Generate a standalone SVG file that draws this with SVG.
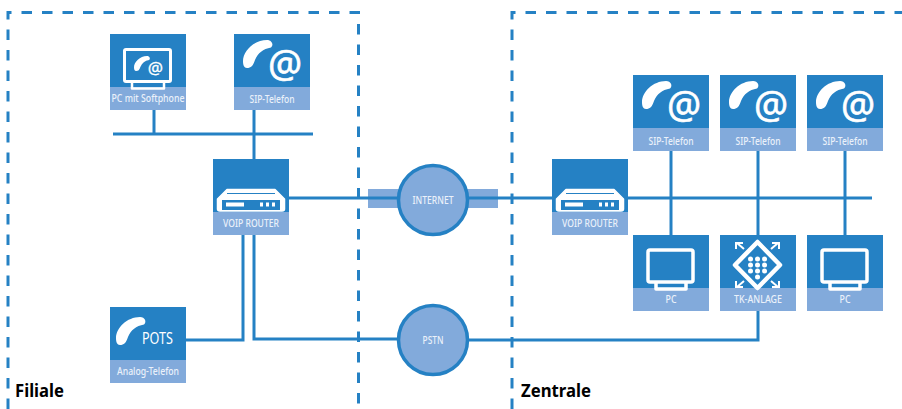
<svg xmlns="http://www.w3.org/2000/svg" xmlns:xlink="http://www.w3.org/1999/xlink" width="902" height="409" viewBox="0 0 902 409">
<style>
.top{fill:#2581c4}.bot{fill:#82aadb}
.lb{font-family:"Noto Sans","Open Sans",sans-serif;font-size:11px;font-weight:500;fill:#eaf1fa;text-anchor:middle}
.zone{fill:none;stroke:#2581c4;stroke-width:3;stroke-dasharray:10.5 10}
.w{stroke:#2581c4;stroke-width:3;fill:none}
.wt{fill:none;stroke:#fff;stroke-linecap:round;stroke-linejoin:round}
.cap{font-family:"Noto Sans","Open Sans",sans-serif;font-weight:700;font-size:18px;fill:#000}
.at{font-family:"Noto Sans","Open Sans",sans-serif;fill:#fff;stroke:#fff;stroke-width:.6;text-anchor:middle}
</style>
<defs>
<g id="tile"><rect class="top" width="76" height="53"/><rect class="bot" y="53" width="76" height="23"/></g>
<path id="hs" d="M0 21C0 11 11 0 24 0C29 0 31 5 28 7.500C20 9 15 13 12 20C10 26 8 28 4 28C1 28 0 25 0 21Z" fill="#fff"/>
<g id="sip"><use xlink:href="#tile"/><use xlink:href="#hs" transform="translate(9 6)"/><text class="at" x="51" y="43" font-size="38">@</text></g>
<g id="pc"><use xlink:href="#tile"/><rect class="wt" x="15" y="15" width="45" height="32" rx="2" stroke-width="3.500"/><path class="wt" d="M23 48V54H53V48" stroke-width="3.500"/></g>
<g id="router"><use xlink:href="#tile"/>
<path d="M4.500 40V50Q4.500 52 7 52H69Q71.500 52 71.500 50V40L62 30.500H14Z" fill="#fff" stroke="#fff" stroke-width="1.500" stroke-linejoin="round"/>
<path d="M14 34.500H62" stroke="#2581c4" stroke-width="1"/>
<rect class="top" x="9" y="41" width="58" height="10"/>
<rect x="13" y="43.500" width="18" height="4" fill="#fff"/>
<rect x="47" y="43.500" width="3" height="4" fill="#fff"/><rect x="53" y="43.500" width="3" height="4" fill="#fff"/><rect x="59" y="43.500" width="3" height="4" fill="#fff"/>
</g>
</defs>

<g id="zones">
<path class="zone" d="M8 409V12.500H358.500V409"/>
<path class="zone" d="M512 409V12.500H902"/>
</g>

<g id="bands"><rect class="bot" x="368" y="189" width="130" height="19"/></g>

<g id="connectors">
<path class="w" d="M113 134H313"/>
<path class="w" d="M154 110V134"/>
<path class="w" d="M254 110V159"/>
<path class="w" d="M289 198H398"/>
<path class="w" d="M468 198H552"/>
<path class="w" d="M628 198H872"/>
<path class="w" d="M671 151V235"/>
<path class="w" d="M758 151V235"/>
<path class="w" d="M845 151V235"/>
<path class="w" d="M186 340H243V235"/>
<path class="w" d="M254 235V339H398"/>
<path class="w" d="M468 340H758V311"/>
</g>

<g id="filiale-label"><text class="cap" x="15" y="397" textLength="49" lengthAdjust="spacingAndGlyphs">Filiale</text></g>
<g id="zentrale-label"><text class="cap" x="521" y="397" textLength="70" lengthAdjust="spacingAndGlyphs">Zentrale</text></g>

<g id="pc-softphone" transform="translate(110 34)"><use xlink:href="#tile"/>
<rect class="wt" x="14.500" y="15.500" width="46" height="32" rx="1.500" stroke-width="3"/>
<path class="wt" d="M22 49V54.500H54V49" stroke-width="2.500"/>
<use xlink:href="#hs" transform="translate(24 22) scale(.54)"/>
<text class="at" x="45.500" y="40" font-size="17" style="stroke-width:.3">@</text>
<text class="lb" x="38" y="68" textLength="73" lengthAdjust="spacingAndGlyphs">PC mit Softphone</text></g>
<g id="sip-filiale" transform="translate(234 34)"><use xlink:href="#sip"/><text class="lb" x="38" y="69" textLength="45" lengthAdjust="spacingAndGlyphs">SIP-Telefon</text></g>
<g id="router-filiale" transform="translate(213 159)"><use xlink:href="#router"/><text class="lb" x="38" y="68" textLength="56" lengthAdjust="spacingAndGlyphs">VOIP ROUTER</text></g>
<g id="pots" transform="translate(110 307)"><use xlink:href="#tile"/><use xlink:href="#hs" transform="translate(6 10)"/>
<text x="47.500" y="37" font-family="Noto Sans,Open Sans,sans-serif" font-size="16.500" fill="#fff" text-anchor="middle" textLength="31" lengthAdjust="spacingAndGlyphs">POTS</text>
<text class="lb" x="38" y="68" textLength="62" lengthAdjust="spacingAndGlyphs">Analog-Telefon</text></g>

<g id="internet"><circle cx="433" cy="200" r="34.500" fill="#82aadb" stroke="#2581c4" stroke-width="3.500"/><text class="lb" x="433" y="204" textLength="41" lengthAdjust="spacingAndGlyphs">INTERNET</text></g>
<g id="pstn"><circle cx="433" cy="340" r="34.500" fill="#82aadb" stroke="#2581c4" stroke-width="3.500"/><text class="lb" x="433" y="344" textLength="21" lengthAdjust="spacingAndGlyphs">PSTN</text></g>

<g id="router-zentrale" transform="translate(552 159)"><use xlink:href="#router"/><text class="lb" x="38" y="68" textLength="56" lengthAdjust="spacingAndGlyphs">VOIP ROUTER</text></g>
<g id="sip-1" transform="translate(633 75)"><use xlink:href="#sip"/><text class="lb" x="38" y="70" textLength="45" lengthAdjust="spacingAndGlyphs">SIP-Telefon</text></g>
<g id="sip-2" transform="translate(720 75)"><use xlink:href="#sip"/><text class="lb" x="38" y="70" textLength="45" lengthAdjust="spacingAndGlyphs">SIP-Telefon</text></g>
<g id="sip-3" transform="translate(807 75)"><use xlink:href="#sip"/><text class="lb" x="38" y="70" textLength="45" lengthAdjust="spacingAndGlyphs">SIP-Telefon</text></g>
<g id="pc-1" transform="translate(633 235)"><use xlink:href="#pc"/><text class="lb" x="38" y="68" textLength="11" lengthAdjust="spacingAndGlyphs">PC</text></g>
<g id="tk-anlage" transform="translate(720 235)"><use xlink:href="#tile"/>
<path d="M37.500 7L60 30L37.500 53L15 30Z" fill="none" stroke="#fff" stroke-width="4.500" stroke-linejoin="round"/>
<g fill="#fff"><circle cx="30.500" cy="24" r="2.500"/><circle cx="37.500" cy="24" r="2.500"/><circle cx="44.500" cy="24" r="2.500"/><circle cx="30.500" cy="30" r="2.500"/><circle cx="37.500" cy="30" r="2.500"/><circle cx="44.500" cy="30" r="2.500"/><circle cx="30.500" cy="36" r="2.500"/><circle cx="37.500" cy="36" r="2.500"/><circle cx="44.500" cy="36" r="2.500"/><circle cx="37.500" cy="42" r="2.500"/></g>
<g stroke="#fff" stroke-width="2" fill="none"><path d="M24 14L17 8M16 14V8H23"/><path d="M51 14L58 8M59 14V8H52"/><path d="M24 46L17 52M16 46V52H23"/><path d="M51 46L58 52M59 46V52H52"/></g>
<text class="lb" x="38" y="68" textLength="48" lengthAdjust="spacingAndGlyphs">TK-ANLAGE</text></g>
<g id="pc-2" transform="translate(807 235)"><use xlink:href="#pc"/><text class="lb" x="38" y="68" textLength="11" lengthAdjust="spacingAndGlyphs">PC</text></g>
</svg>
